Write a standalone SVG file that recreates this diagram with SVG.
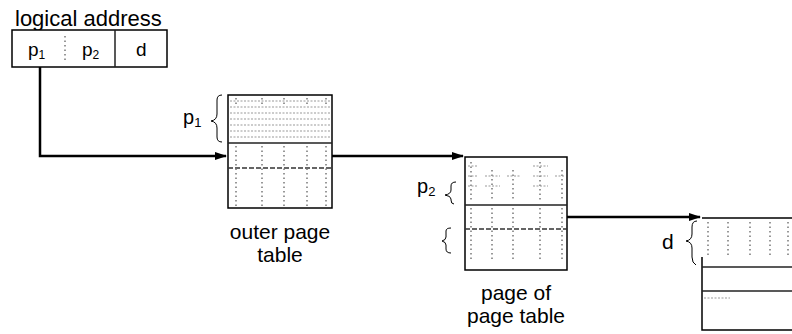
<svg xmlns="http://www.w3.org/2000/svg" width="792" height="334" viewBox="0 0 792 334">
<style>
.t{font-family:"Liberation Sans",Arial,sans-serif;fill:#000}
.lbl{font-size:21px}
.box{fill:#fff;stroke:#000;stroke-width:1.5}
.edge{fill:none;stroke:#000;stroke-width:1.5}
.row{stroke:#999;stroke-width:1;stroke-dasharray:2 1.5;fill:none}
.col{stroke:#777;stroke-width:1.5;stroke-dasharray:1.5 3;fill:none}
.sep{stroke:#222;stroke-width:1.5;fill:none}
.dsep{stroke:#333;stroke-width:1.5;stroke-dasharray:5 2;fill:none}
.brace{fill:none;stroke:#000;stroke-width:1}
.conn{fill:none;stroke:#000;stroke-width:2.5}
</style>
<defs>
<marker id="ah" markerWidth="12" markerHeight="8" refX="11" refY="4" orient="auto" markerUnits="userSpaceOnUse"><path d="M0,0 L12,4 L0,8 z" fill="#000"/></marker>
</defs>

<g id="logical-address">
<text class="t" x="15" y="26" font-size="22">logical address</text>
<rect class="box" x="12" y="30" width="155" height="37"/>
<line class="sep" x1="115" y1="30" x2="115" y2="67"/>
<line class="col" x1="65" y1="36" x2="65" y2="60"/>
<text class="t" x="28" y="56" font-size="19" fill="#333">p<tspan font-size="12" dy="3">1</tspan></text>
<text class="t" x="82" y="56" font-size="19" fill="#333">p<tspan font-size="12" dy="3">2</tspan></text>
<text class="t" x="136" y="56" font-size="19" fill="#333">d</text>
</g>

<g id="outer-page-table">
<rect class="box" x="228" y="95" width="104" height="113"/>
<path class="row" d="M230,101H330M230,107H330M230,113H330M230,119H330M230,125H330M230,131H330M230,137H330"/>
<line class="sep" x1="228" y1="143" x2="332" y2="143"/>
<line class="dsep" x1="228" y1="168" x2="332" y2="168"/>
<path class="col" d="M236,146V206M262,146V206M284,146V206M307,146V206M326,146V206M236,98V104M262,98V104M284,98V104M307,98V104M326,98V104"/>
<text class="t" x="183" y="124" font-size="20">p<tspan font-size="13" dy="3">1</tspan></text>
<path class="brace" d="M222,95 q-5,0 -5,5 v14 q0,6 -6,7 q6,1 6,7 v9 q0,5 5,5"/>
<text class="t lbl" x="280" y="239" text-anchor="middle">outer page</text>
<text class="t lbl" x="280" y="262" text-anchor="middle">table</text>
</g>

<g id="page-of-page-table">
<rect class="box" x="465" y="157" width="102" height="113"/>
<path class="col" d="M471,162V200M492,170V200M513,170V200M540,162V200M562,170V200"/>
<path class="row" d="M468,166H478M468,176H478M468,186H478M485,176H500M485,186H500M507,176H520M533,166H548M533,176H548M533,186H548M555,176H565"/>
<line class="sep" x1="465" y1="205" x2="567" y2="205"/>
<line class="dsep" x1="465" y1="229" x2="567" y2="229"/>
<path class="col" d="M471,208V262M492,208V262M513,208V262M540,208V262M562,208V262"/>
<text class="t" x="417" y="193" font-size="20">p<tspan font-size="13" dy="3">2</tspan></text>
<path class="brace" d="M456,182 q-5,0 -5,4 v4 q0,4 -6,5 q6,1 6,4 v1 q0,4 3,4"/>
<path class="brace" d="M451,228 q-5,0 -5,3 v6 q0,3 -4,4 q4,1 4,4 v4 q0,4 5,4"/>
<text class="t lbl" x="516" y="300" text-anchor="middle">page of</text>
<text class="t lbl" x="516" y="323" text-anchor="middle">page table</text>
</g>

<g id="page-table">
<path class="edge" d="M702,218H792M702,257V330H792"/>
<path class="col" d="M708,222V256M728,222V256M750,222V256M770,222V256M788,222V256"/>
<line class="sep" x1="702" y1="267" x2="792" y2="267"/>
<line class="sep" x1="702" y1="291" x2="792" y2="291"/>
<line class="row" x1="704" y1="298" x2="730" y2="298"/>
<text class="t lbl" x="662" y="249">d</text>
<path class="brace" d="M697,221 q-5,0 -5,6 v7 q0,6 -6,7 q6,1 6,7 v9 q0,6 4,8"/>
</g>

<g id="connectors">
<path class="conn" d="M40,67V156H226" marker-end="url(#ah)"/>
<path class="conn" d="M332,156H463" marker-end="url(#ah)"/>
<path class="conn" d="M567,217H700" marker-end="url(#ah)"/>
</g>
</svg>
